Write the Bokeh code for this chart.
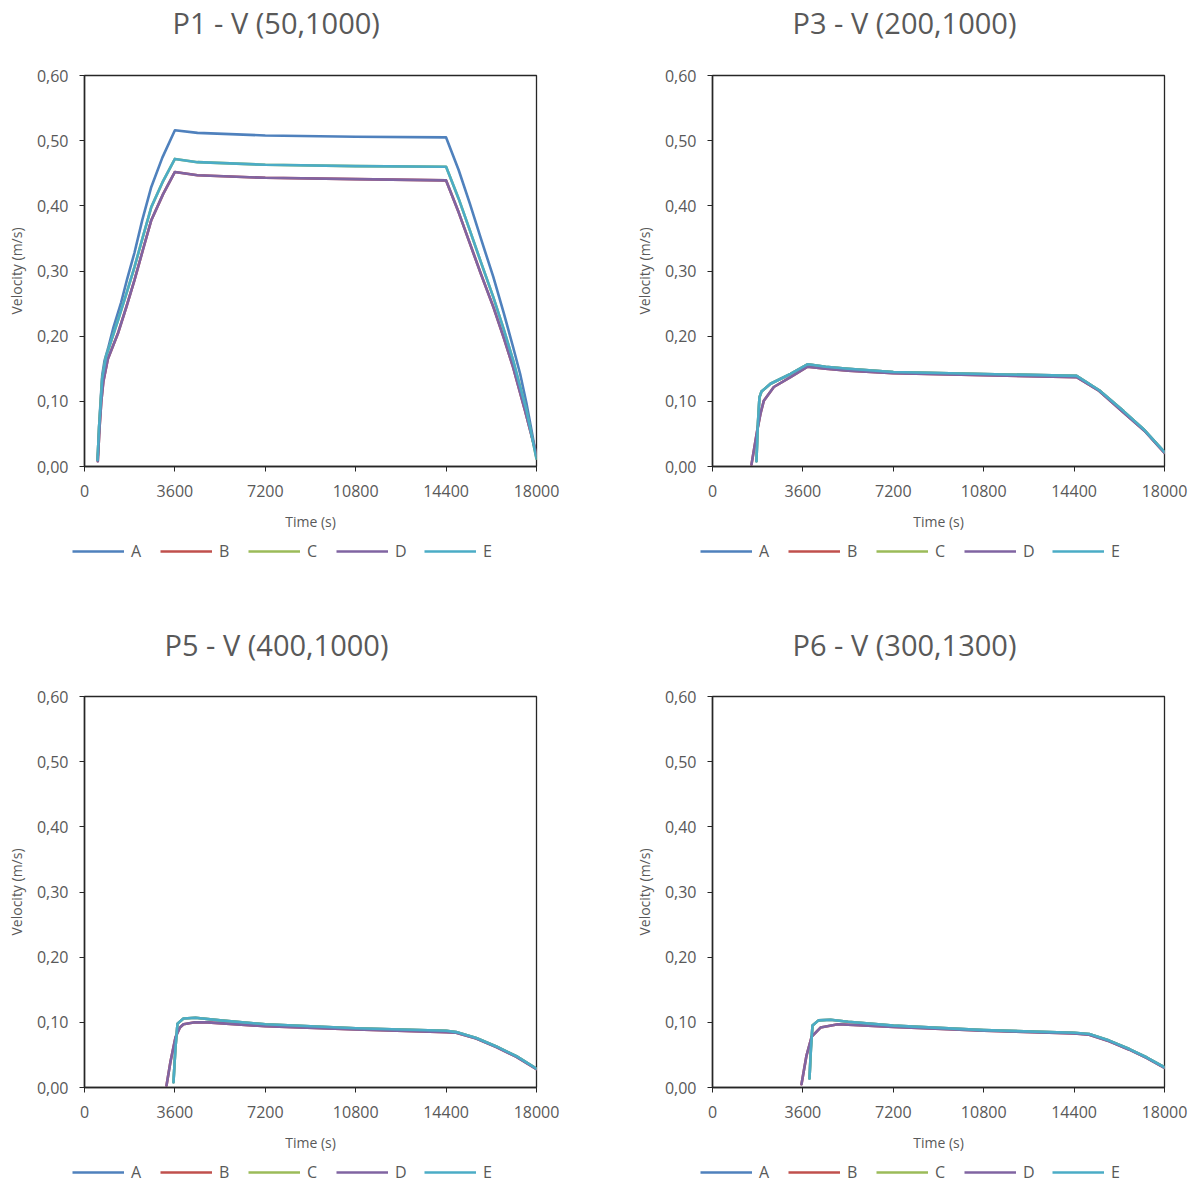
from bokeh.plotting import figure
from bokeh.layouts import column, row
from bokeh.models import FixedTicker, CustomJSTickFormatter, Legend, LegendItem, Range1d, Label
from bokeh.embed import file_html
from bokeh.resources import INLINE

SERIES = ["A", "B", "C", "D", "E"]
COLORS = ["#4F81BD", "#C0504D", "#9BBB59", "#8064A2", "#4BACC6"]
X_TICKS = [0, 3600, 7200, 10800, 14400, 18000]
Y_TICKS = [0.0, 0.1, 0.2, 0.3, 0.4, 0.5, 0.6]
TITLES = ["P1 - V (50,1000)", "P3 - V (200,1000)", "P5 - V (400,1000)", "P6 - V (300,1300)"]

# ---------------- P1 ----------------
P1_A_T = [520, 580, 640, 705, 800, 930, 1150, 1460, 1700, 1990, 2300, 2660, 3100, 3600, 4500, 7200, 10800, 14400,
          14900, 15350, 15800, 16280, 16700, 17070, 17350, 17600, 17800, 18000]
P1_A_V = [0.010, 0.060, 0.100, 0.140, 0.163, 0.180, 0.213, 0.252, 0.288, 0.328, 0.378, 0.429, 0.474, 0.516, 0.512,
          0.508, 0.506, 0.505, 0.455, 0.403, 0.348, 0.291, 0.235, 0.183, 0.142, 0.097, 0.056, 0.014]
P1_D_T = [530, 600, 670, 750, 930, 1330, 1660, 1990, 2330, 2660, 3130, 3600, 4500, 7200, 10800, 14400,
          14900, 15350, 15800, 16280, 16700, 17070, 17540, 18000]
P1_D_V = [0.008, 0.060, 0.100, 0.130, 0.165, 0.204, 0.244, 0.286, 0.333, 0.378, 0.418, 0.452, 0.447,
          0.443, 0.441, 0.439, 0.390, 0.342, 0.294, 0.245, 0.197, 0.152, 0.086, 0.018]
P1_E_T = [520, 580, 640, 705, 865, 1000, 1330, 1660, 1990, 2330, 2660, 3130, 3600, 4500, 7200, 10800, 14400,
          14900, 15350, 15800, 16280, 16700, 17070, 17600, 18000]
P1_E_V = [0.010, 0.060, 0.095, 0.135, 0.170, 0.185, 0.224, 0.264, 0.306, 0.353, 0.398, 0.438, 0.472, 0.467,
          0.463, 0.461, 0.460, 0.411, 0.362, 0.312, 0.260, 0.210, 0.163, 0.086, 0.012]

# ---------------- P3 ----------------
P3_D_T = [1553, 1779, 1911, 2044, 2442, 3106, 3770, 4500, 5400, 7200, 10800, 14500, 15400, 16368, 17200, 18000]
P3_D_V = [0.003, 0.055, 0.081, 0.101, 0.122, 0.137, 0.153, 0.150, 0.147, 0.143, 0.140, 0.137, 0.116, 0.083, 0.055, 0.021]
P3_E_T = [1750, 1800, 1870, 1950, 2310, 3106, 3800, 4500, 5400, 7200, 10800, 14500, 15400, 16368, 17200, 18000]
P3_E_V = [0.008, 0.060, 0.106, 0.115, 0.127, 0.142, 0.157, 0.153, 0.150, 0.145, 0.142, 0.139, 0.117, 0.085, 0.056, 0.022]

# ---------------- P5 ----------------
P5_D_T = [3266, 3425, 3624, 3800, 3943, 4400, 4900, 7200, 10800, 14400, 14800, 15600, 16400, 17200, 18000]
P5_D_V = [0.003, 0.040, 0.077, 0.092, 0.097, 0.100, 0.100, 0.094, 0.089, 0.085, 0.084, 0.075, 0.062, 0.047, 0.028]
P5_E_T = [3544, 3620, 3704, 3943, 4420, 5400, 7200, 10800, 14400, 14800, 15600, 16400, 17200, 18000]
P5_E_V = [0.008, 0.060, 0.098, 0.106, 0.107, 0.103, 0.097, 0.091, 0.087, 0.085, 0.076, 0.063, 0.048, 0.029]

# ---------------- P6 ----------------
P6_D_T = [3544, 3743, 3950, 4301, 5000, 7200, 10800, 14400, 15000, 15800, 16600, 17300, 18000]
P6_D_V = [0.005, 0.049, 0.078, 0.092, 0.097, 0.093, 0.087, 0.083, 0.081, 0.071, 0.058, 0.045, 0.030]
P6_E_T = [3863, 3920, 3982, 4221, 4699, 5400, 7200, 10800, 14400, 15000, 15800, 16600, 17300, 18000]
P6_E_V = [0.014, 0.060, 0.095, 0.103, 0.104, 0.101, 0.095, 0.088, 0.084, 0.082, 0.072, 0.059, 0.046, 0.031]

# series (t, v) for A..E in each panel (B, C lie under D, E; A under E where not distinct)
PANELS = [
    [(P1_A_T, P1_A_V), (P1_D_T, P1_D_V), (P1_E_T, P1_E_V), (P1_D_T, P1_D_V), (P1_E_T, P1_E_V)],
    [(P3_E_T, P3_E_V), (P3_D_T, P3_D_V), (P3_E_T, P3_E_V), (P3_D_T, P3_D_V), (P3_E_T, P3_E_V)],
    [(P5_E_T, P5_E_V), (P5_D_T, P5_D_V), (P5_E_T, P5_E_V), (P5_D_T, P5_D_V), (P5_E_T, P5_E_V)],
    [(P6_E_T, P6_E_V), (P6_D_T, P6_D_V), (P6_E_T, P6_E_V), (P6_D_T, P6_D_V), (P6_E_T, P6_E_V)],
]

FONT = "Open Sans"
GREY = "#595959"
LINE_W = 2.6


def strip(width, height):
    s = figure(width=width, height=height, x_range=Range1d(0, 1), y_range=Range1d(0, 1),
               output_backend="svg", toolbar_location=None, x_axis_type=None, y_axis_type=None,
               min_border=0, min_border_left=0, min_border_right=0, min_border_top=0, min_border_bottom=0,
               outline_line_color=None, frame_align=False)
    s.title.visible = False
    s.xgrid.visible = False
    s.ygrid.visible = False
    s.background_fill_color = "white"
    s.border_fill_color = "white"
    return s


def make_title(idx, width, height, tx):
    s = strip(width, height)
    s.add_layout(Label(x=tx, y=height / 2, x_units="screen", y_units="screen", text=TITLES[idx],
                       text_font=FONT, text_font_size="29px", text_color=GREY,
                       text_align="left", text_baseline="middle"))
    return s


def make_fig(idx, width, height, bl, br, bt, bb):
    p = figure(width=width, height=height, x_range=Range1d(0, 18000), y_range=Range1d(0, 0.6),
               output_backend="svg", toolbar_location=None, frame_align=False,
               min_border_left=bl, min_border_right=br, min_border_top=bt, min_border_bottom=bb)
    p.title.visible = False
    xax = p.xaxis[0]
    yax = p.yaxis[0]

    p.background_fill_color = "white"
    p.border_fill_color = "white"
    p.outline_line_color = "#262626"
    p.outline_line_width = 1.3
    p.xgrid.visible = False
    p.ygrid.visible = False

    for ax in (xax, yax):
        ax.axis_line_color = "#262626"
        ax.axis_line_width = 1.5
        ax.major_tick_line_color = "#262626"
        ax.major_tick_out = 5
        ax.major_tick_in = 0
        ax.minor_tick_out = 0
        ax.minor_tick_in = 0
        ax.major_label_text_font = FONT
        ax.major_label_text_font_size = "16px"
        ax.major_label_text_color = GREY
        ax.axis_label_text_font = FONT
        ax.axis_label_text_font_size = "14px"
        ax.axis_label_text_font_style = "normal"
        ax.axis_label_text_color = GREY

    xax.ticker = FixedTicker(ticks=X_TICKS)
    yax.ticker = FixedTicker(ticks=Y_TICKS)
    yax.formatter = CustomJSTickFormatter(code="return tick.toFixed(2).replace('.', ',');")
    xax.axis_label = "Time (s)"
    yax.axis_label = "Velocity (m/s)"
    xax.major_label_standoff = 13
    xax.axis_label_standoff = 12
    yax.major_label_standoff = 11
    yax.axis_label_standoff = 8

    for color, (t, v) in zip(COLORS, PANELS[idx]):
        p.line(t, v, line_color=color, line_width=LINE_W, line_join="round", line_cap="round")
    return p


def make_legend(idx, width, height, lx, ly):
    lf = strip(width, height)
    items = []
    for name, color, (t, v) in zip(SERIES, COLORS, PANELS[idx]):
        # legend-only renderer: hidden, it just carries the series style for the legend swatch
        r = lf.line(t, v, line_color=color, line_width=LINE_W, visible=False)
        items.append(LegendItem(label=name, renderers=[r]))
    leg = Legend(items=items, orientation="horizontal", location=(lx, ly))
    leg.glyph_width = 52
    leg.glyph_height = 20
    leg.label_height = 20
    leg.label_width = 20
    leg.label_standoff = 7
    leg.spacing = 9
    leg.padding = 0
    leg.margin = 0
    leg.border_line_color = None
    leg.background_fill_alpha = 0
    leg.inactive_fill_alpha = 0
    leg.label_text_font = FONT
    leg.label_text_font_size = "16px"
    leg.label_text_color = GREY
    lf.add_layout(leg, "center")
    return lf


# top row: title strip 0..44, figure 44..541 (frame 75..466), legend strip 541..608
# bottom row: title strip 608..680, figure 680..1162 (frame 696..1087), legend strip 1162..1184
t1 = make_title(0, 598, 44, 172)
t2 = make_title(1, 598, 44, 194)
t3 = make_title(2, 598, 72, 164)
t4 = make_title(3, 598, 72, 194)
f1 = make_fig(0, 598, 497, 84, 62, 31, 75)
f2 = make_fig(1, 598, 497, 114, 32, 31, 75)
f3 = make_fig(2, 598, 482, 84, 62, 16, 75)
f4 = make_fig(3, 598, 482, 114, 32, 16, 75)
l1 = make_legend(0, 598, 67, 72, 46)
l2 = make_legend(1, 598, 67, 102, 46)
l3 = make_legend(2, 598, 22, 72, 1)
l4 = make_legend(3, 598, 22, 102, 1)

layout = column(row(column(t1, f1, l1), column(t2, f2, l2)),
                row(column(t3, f3, l3), column(t4, f4, l4)))

html = file_html(layout, INLINE)
open("out.html", "w").write(html)
